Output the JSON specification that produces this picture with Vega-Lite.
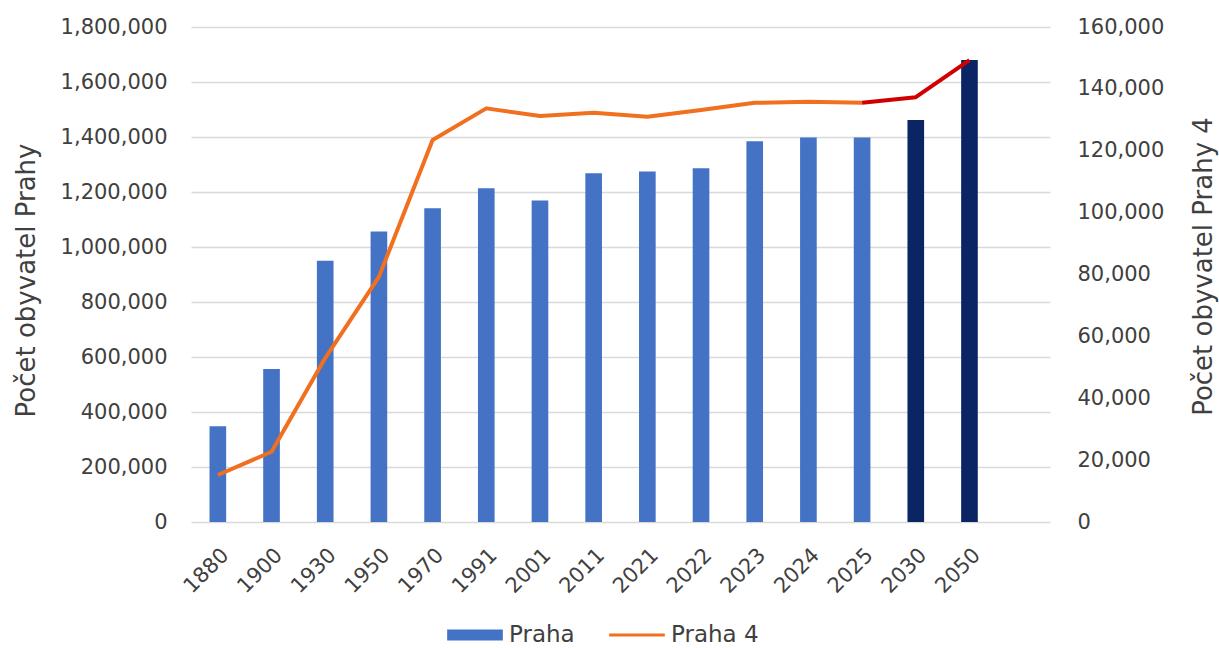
{
  "$schema": "https://vega.github.io/schema/vega-lite/v6.json",
  "width": 859,
  "height": 495,
  "autosize": {"type": "none"},
  "padding": {"left": 191, "top": 27, "right": 169, "bottom": 126},
  "background": "white",
  "config": {
    "font": "DejaVu Sans",
    "view": {"stroke": null},
    "axis": {"labelColor": "#404040", "titleColor": "#404040", "labelFont": "DejaVu Sans", "titleFont": "DejaVu Sans", "titleFontWeight": "normal", "domain": false, "ticks": false},
    "legend": {"labelColor": "#404040", "labelFont": "DejaVu Sans"}
  },
  "data": {
    "values": [
      {"rok": "1880", "praha": 348000, "praha4": 15200, "typ": "skutečnost"},
      {"rok": "1900", "praha": 556000, "praha4": 22700, "typ": "skutečnost"},
      {"rok": "1930", "praha": 950000, "praha4": 53000, "typ": "skutečnost"},
      {"rok": "1950", "praha": 1056000, "praha4": 79200, "typ": "skutečnost"},
      {"rok": "1970", "praha": 1141000, "praha4": 123500, "typ": "skutečnost"},
      {"rok": "1991", "praha": 1214000, "praha4": 133700, "typ": "skutečnost"},
      {"rok": "2001", "praha": 1169000, "praha4": 131200, "typ": "skutečnost"},
      {"rok": "2011", "praha": 1268000, "praha4": 132300, "typ": "skutečnost"},
      {"rok": "2021", "praha": 1275000, "praha4": 131000, "typ": "skutečnost"},
      {"rok": "2022", "praha": 1286000, "praha4": 133200, "typ": "skutečnost"},
      {"rok": "2023", "praha": 1385000, "praha4": 135500, "typ": "skutečnost"},
      {"rok": "2024", "praha": 1398000, "praha4": 135800, "typ": "skutečnost"},
      {"rok": "2025", "praha": 1398000, "praha4": 135500, "typ": "skutečnost"},
      {"rok": "2030", "praha": 1462000, "praha4": 137300, "typ": "projekce"},
      {"rok": "2050", "praha": 1680000, "praha4": 149300, "typ": "projekce"}
    ]
  },
  "encoding": {
    "x": {
      "field": "rok",
      "type": "nominal",
      "sort": null,
      "scale": {"domain": ["1880","1900","1930","1950","1970","1991","2001","2011","2021","2022","2023","2024","2025","2030","2050",""], "paddingInner": 0, "paddingOuter": 0},
      "axis": {"title": null, "labelAngle": -45, "labelFontSize": 21, "labelPadding": 22, "grid": false}
    }
  },
  "layer": [
    {
      "mark": {"type": "bar", "width": {"band": 0.31}},
      "encoding": {
        "y": {
          "field": "praha",
          "type": "quantitative",
          "scale": {"domain": [0, 1800000], "nice": false},
          "axis": {
            "title": "Počet obyvatel Prahy",
            "format": ",d",
            "values": [0,200000,400000,600000,800000,1000000,1200000,1400000,1600000,1800000],
            "labelFontSize": 21,
            "labelPadding": 24,
            "grid": true,
            "gridColor": "#D9D9D9",
            "gridWidth": 1.3,
            "titleFontSize": 26,
            "titleAngle": -90,
            "titleX": -165,
            "titleY": 253,
            "titleAlign": "center",
            "titleBaseline": "middle"
          }
        },
        "color": {
          "condition": {"test": "datum.typ === 'projekce'", "value": "#0B2463"},
          "datum": "Praha",
          "type": "nominal",
          "scale": {"domain": ["Praha", "Praha 4"], "range": ["#4472C4", "#F07020"]},
          "legend": {
            "orient": "none",
            "direction": "horizontal",
            "legendX": 256,
            "legendY": 580,
            "title": null,
            "labelFontSize": 23,
            "symbolSize": 3100,
            "columnPadding": 34,
            "labelOffset": 6,
            "symbolStrokeWidth": 0,
            "encode": {
              "symbols": {
                "update": {
                  "shape": {"signal": "datum.value === 'Praha' ? 'M-1,-0.2H1V0.2H-1Z' : 'M-1,-0.05H1V0.05H-1Z'"},
                  "fill": {"signal": "datum.value === 'Praha' ? '#4472C4' : '#F07020'"},
                  "stroke": {"signal": "datum.value === 'Praha' ? '#4472C4' : '#F07020'"},
                  "fillOpacity": {"value": 1},
                  "opacity": {"value": 1},
                  "strokeWidth": {"value": 0}
                }
              }
            }
          }
        }
      }
    },
    {
      "transform": [{"filter": {"field": "rok", "oneOf": ["1880","1900","1930","1950","1970","1991","2001","2011","2021","2022","2023","2024","2025"]}}],
      "mark": {"type": "line", "strokeWidth": 4, "strokeJoin": "round"},
      "encoding": {
        "y": {
          "field": "praha4",
          "type": "quantitative",
          "scale": {"domain": [0, 160000], "nice": false},
          "axis": {
            "orient": "right",
            "title": "Počet obyvatel Prahy 4",
            "format": ",d",
            "values": [0,20000,40000,60000,80000,100000,120000,140000,160000],
            "labelFontSize": 21,
            "labelPadding": 27,
            "grid": false,
            "titleFontSize": 26,
            "titleAngle": -90,
            "titleX": 153,
            "titleY": 239,
            "titleAlign": "center",
            "titleBaseline": "middle"
          }
        },
        "color": {"datum": "Praha 4", "type": "nominal"}
      }
    },
    {
      "transform": [{"filter": {"field": "rok", "oneOf": ["2025","2030","2050"]}}],
      "mark": {"type": "line", "strokeWidth": 4, "strokeJoin": "round", "color": "#D00000"},
      "encoding": {
        "y": {"field": "praha4", "type": "quantitative", "scale": {"domain": [0, 160000], "nice": false}, "axis": null}
      }
    }
  ],
  "resolve": {"scale": {"y": "independent"}}
}
